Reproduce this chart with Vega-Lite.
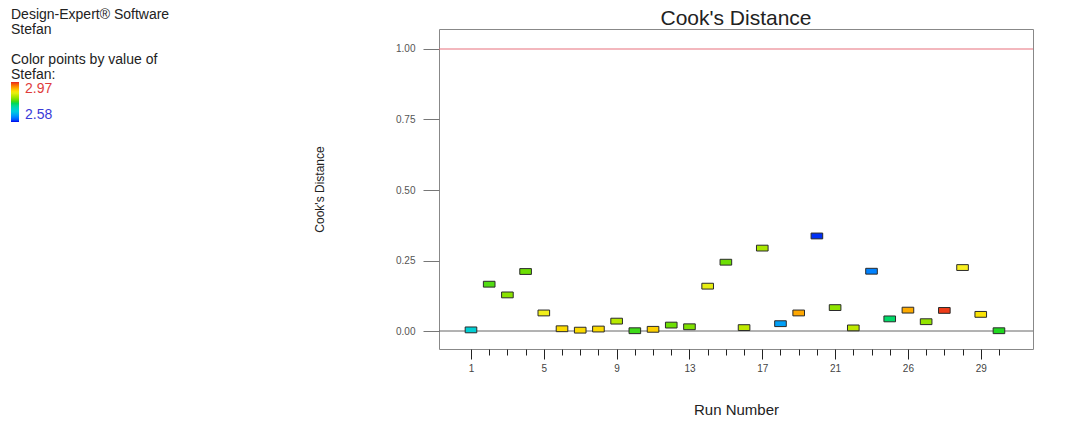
{
  "$schema": "https://vega.github.io/schema/vega-lite/v6.json",
  "width": 594,
  "height": 320,
  "autosize": {"type": "none"},
  "padding": {"left": 439, "top": 29, "right": 33, "bottom": 80},
  "background": "white",
  "config": {
    "font": "Liberation Sans",
    "view": {"stroke": "#888888", "strokeWidth": 1}
  },
  "title": {
    "text": "Cook's Distance",
    "fontSize": 21,
    "fontWeight": "normal",
    "color": "#222222",
    "anchor": "middle",
    "frame": "group",
    "offset": -21
  },
  "datasets": {
    "runs": [
      {"run": 1, "cooks": 0.004, "stefan": 2.697},
      {"run": 2, "cooks": 0.166, "stefan": 2.787},
      {"run": 3, "cooks": 0.128, "stefan": 2.81},
      {"run": 4, "cooks": 0.211, "stefan": 2.797},
      {"run": 5, "cooks": 0.064, "stefan": 2.868},
      {"run": 6, "cooks": 0.008, "stefan": 2.884},
      {"run": 7, "cooks": 0.003, "stefan": 2.884},
      {"run": 8, "cooks": 0.007, "stefan": 2.884},
      {"run": 9, "cooks": 0.035, "stefan": 2.834},
      {"run": 10, "cooks": 0.001, "stefan": 2.781},
      {"run": 11, "cooks": 0.006, "stefan": 2.89},
      {"run": 12, "cooks": 0.021, "stefan": 2.797},
      {"run": 13, "cooks": 0.015, "stefan": 2.805},
      {"run": 14, "cooks": 0.159, "stefan": 2.862},
      {"run": 15, "cooks": 0.244, "stefan": 2.797},
      {"run": 16, "cooks": 0.012, "stefan": 2.838},
      {"run": 17, "cooks": 0.294, "stefan": 2.826},
      {"run": 18, "cooks": 0.026, "stefan": 2.646},
      {"run": 19, "cooks": 0.064, "stefan": 2.912},
      {"run": 20, "cooks": 0.337, "stefan": 2.588},
      {"run": 21, "cooks": 0.083, "stefan": 2.812},
      {"run": 22, "cooks": 0.011, "stefan": 2.838},
      {"run": 23, "cooks": 0.212, "stefan": 2.627},
      {"run": 24, "cooks": 0.043, "stefan": 2.755},
      {"run": 25, "cooks": 0.074, "stefan": 2.91},
      {"run": 26, "cooks": 0.033, "stefan": 2.815},
      {"run": 27, "cooks": 0.073, "stefan": 2.962},
      {"run": 28, "cooks": 0.225, "stefan": 2.873},
      {"run": 29, "cooks": 0.059, "stefan": 2.88},
      {"run": 30, "cooks": 0.001, "stefan": 2.775}
    ]
  },
  "data": {"name": "runs"},
  "encoding": {
    "x": {
      "field": "run",
      "type": "quantitative",
      "scale": {"domain": [-0.757, 31.87], "nice": false, "zero": false},
      "axis": {
        "values": [1,2,3,4,5,6,7,8,9,10,11,12,13,14,15,16,17,18,19,20,21,22,23,24,25,26,27,28,29,30],
        "format": "d",
        "labelExpr": "datum.value == 25 ? '26' : ((datum.value - 1) % 4 == 0 ? datum.label : '')",
        "tickSize": {"condition": {"test": "(datum.value - 1) % 4 == 0", "value": 10}, "value": 6},
        "tickColor": "#222222",
        "domain": false,
        "grid": false,
        "labelFontSize": 10,
        "labelColor": "#444444",
        "labelPadding": 4,
        "labelFlush": false,
        "labelOverlap": false,
        "title": "Run Number",
        "titleFontSize": 15,
        "titleFontWeight": "normal",
        "titleColor": "#222222",
        "titlePadding": 29
      }
    },
    "y": {
      "field": "cooks",
      "type": "quantitative",
      "scale": {"domain": [-0.0638, 1.0709], "nice": false, "zero": false},
      "axis": {
        "values": [0, 0.25, 0.5, 0.75, 1],
        "format": ".2f",
        "tickSize": 16,
        "tickColor": "#777777",
        "domain": false,
        "grid": false,
        "labelFontSize": 10,
        "labelColor": "#555555",
        "labelPadding": 8,
        "title": "Cook's Distance",
        "titleFontSize": 12,
        "titleFontWeight": "normal",
        "titleColor": "#222222",
        "titlePadding": 69
      }
    }
  },
  "layer": [
    {
      "data": {"values": [{"level": 0}]},
      "mark": {"type": "rule", "color": "#666666", "strokeWidth": 1},
      "encoding": {"x": null, "y": {"field": "level", "type": "quantitative"}}
    },
    {
      "data": {"values": [{"level": 1}]},
      "mark": {"type": "rule", "color": "#e8707c", "strokeWidth": 1.2},
      "encoding": {"x": null, "y": {"field": "level", "type": "quantitative"}}
    },
    {
      "mark": {
        "type": "point",
        "shape": "M-1,-0.5H1V0.5H-1Z",
        "filled": true,
        "size": 135,
        "stroke": "#2a2a2a",
        "strokeWidth": 1,
        "opacity": 1
      },
      "encoding": {
        "color": {
          "field": "stefan",
          "type": "quantitative",
          "scale": {
            "type": "linear",
            "domain": [2.58, 2.97],
            "range": ["#0000e8", "#20c8e0", "#20d820", "#f8f020", "#e82020"]
          },
          "legend": {
            "orient": "none",
            "legendX": -428,
            "legendY": -21,
            "direction": "vertical",
            "title": ["Design-Expert® Software", "Stefan", "\u200b", "Color points by value of", "Stefan:"],
            "titleFontSize": 14,
            "titleFontWeight": "normal",
            "titleColor": "#222222",
            "titleLineHeight": 15,
            "titlePadding": 0,
            "gradientLength": 40,
            "gradientThickness": 8,
            "gradientStrokeWidth": 0,
            "values": [2.58, 2.97],
            "format": ".2f",
            "labelFontSize": 14,
            "labelOffset": 6,
            "labelColor": {"expr": "datum.value > 2.7 ? '#e03c3c' : '#3a3ad8'"},
            "padding": 0
          }
        }
      }
    }
  ]
}
